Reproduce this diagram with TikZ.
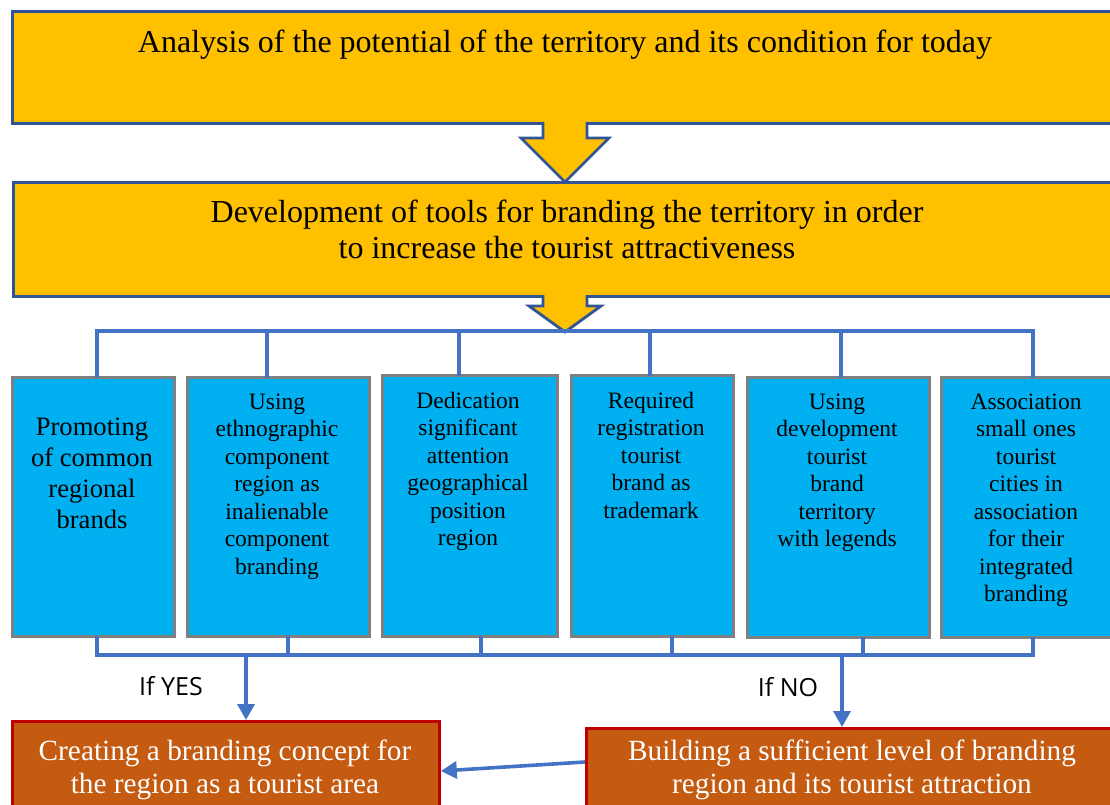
\documentclass[tikz,border=0pt]{standalone}
\usepackage{fontspec}
\setmainfont{Liberation Serif}
\newfontfamily\notefont{Open Sans}
\usetikzlibrary{arrows.meta}
\definecolor{amber}{HTML}{FFC000}
\definecolor{navyedge}{HTML}{2F5597}
\definecolor{sky}{HTML}{00B0F0}
\definecolor{greyedge}{HTML}{7F7F7F}
\definecolor{rust}{HTML}{C55A11}
\definecolor{rededge}{HTML}{C00000}
\definecolor{linkblue}{HTML}{4472C4}

% block arrow pointing down: centre x, shaft top, head top, tip, shaft half width, head half width
\newcommand\downblock[6]{%
  \fill[amber] (#1-#5,#2) -- (#1-#5,#3) -- (#1-#6,#3) -- (#1,#4) -- (#1+#6,#3) -- (#1+#5,#3) -- (#1+#5,#2) -- cycle;
  \draw[navyedge, line width=2.8pt, line join=miter] (#1-#5,#2) -- (#1-#5,#3) -- (#1-#6,#3) -- (#1,#4) -- (#1+#6,#3) -- (#1+#5,#3) -- (#1+#5,#2);
}

\begin{document}
\begin{tikzpicture}[x=1pt, y=-1pt,
  stagebox/.style={draw=navyedge, fill=amber, line width=3.2pt, anchor=north west, inner sep=0pt},
  stagetext/.style={font=\fontsize{32}{36}\selectfont, align=center, inner sep=0pt, anchor=north},
  optbox/.style={draw=greyedge, fill=sky, line width=3.2pt, anchor=north west, inner sep=0pt},
  optext/.style={font=\fontsize{23.5}{27.5}\selectfont, align=center, inner sep=0pt, anchor=north},
  bigoptext/.style={font=\fontsize{26.6}{31}\selectfont, align=center, inner sep=0pt, anchor=north},
  outbox/.style={draw=rededge, fill=rust, line width=2.8pt, anchor=north west, inner sep=0pt},
  outtext/.style={font=\fontsize{29.3}{33}\selectfont, text=white, align=center, inner sep=0pt, anchor=north},
  link/.style={draw=linkblue, line width=3.6pt, line cap=rect},
  flow/.style={draw=linkblue, line width=3.6pt, -{Triangle[length=16pt, width=17pt]}},
  note/.style={font=\notefont\fontsize{25}{28}\selectfont, inner sep=0pt}
]
\useasboundingbox (0,0) rectangle (1110,805);
\clip (0,0) rectangle (1110,805);

% stage boxes
\node[stagebox, minimum width=1114pt, minimum height=112pt] (analysis) at (11,10) {};
\node[stagetext] (analysisT) at (565,26.8) {\strut Analysis of the potential of the territory and its condition for today};

\node[stagebox, minimum width=1114pt, minimum height=114pt] (tools) at (12,181) {};
\node[stagetext] (toolsT) at (567,196.8) {\strut Development of tools for branding the territory in order\\ to increase the tourist attractiveness};

\downblock{565}{122}{138}{182}{22}{44}
\downblock{565}{295}{306}{332}{22}{36}

% option boxes
\node[optbox, minimum width=162pt, minimum height=259pt] (b1) at (11,376) {};
\node[optbox, minimum width=182pt, minimum height=259pt] (b2) at (186,376) {};
\node[optbox, minimum width=175pt, minimum height=261pt] (b3) at (381,374) {};
\node[optbox, minimum width=162pt, minimum height=261pt] (b4) at (570,374) {};
\node[optbox, minimum width=182pt, minimum height=260pt] (b5) at (746,376) {};
\node[optbox, minimum width=172pt, minimum height=260pt] (b6) at (940,376) {};

\node[bigoptext] (b1t) at (92,413.3) {\strut Promoting\\of common\\regional\\brands};
\node[optext] (b2t) at (277,389.8) {\strut Using\\ethnographic\\component\\region as\\inalienable\\component\\branding};
\node[optext] (b3t) at (468,388.8) {\strut Dedication\\significant\\attention\\geographical\\position\\region};
\node[optext] (b4t) at (651,388.8) {\strut Required\\registration\\tourist\\brand as\\trademark};
\node[optext] (b5t) at (837,389.8) {\strut Using\\development\\tourist\\brand\\territory\\with legends};
\node[optext] (b6t) at (1026,389.8) {\strut Association\\small ones\\tourist\\cities in\\association\\for their\\integrated\\branding};

% upper bracket
\coordinate (u1) at (97,331);
\coordinate (u2) at (267,331);
\coordinate (u3) at (459,331);
\coordinate (u4) at (650,331);
\coordinate (u5) at (841,331);
\coordinate (u6) at (1033,331);
\draw[link] (u1) -- (u6);
\foreach \i in {1,...,6} \draw[link] (u\i) -- (u\i |- b\i.north);

% lower bracket
\coordinate (d1) at (97,655);
\coordinate (d2) at (288,655);
\coordinate (d3) at (481,655);
\coordinate (d4) at (672,655);
\coordinate (d5) at (863,655);
\coordinate (d6) at (1033,655);
\draw[link] (d1) -- (d6);
\foreach \i in {1,...,6} \draw[link] (d\i) -- (d\i |- b\i.south);

% outcome boxes
\node[outbox, minimum width=427pt, minimum height=130pt] (create) at (11,720) {};
\node[outbox, minimum width=560pt, minimum height=130pt] (build) at (585,727) {};
\node[outtext] (createT) at (225,737.5) {\strut Creating a branding concept for\\the region as a tourist area};
\node[outtext] (buildT) at (852,737.5) {\strut Building a sufficient level of branding\\region and its tourist attraction};

\coordinate (yesfork) at (246,655);
\coordinate (nofork) at (842,655);
\draw[flow] (yesfork) -- (yesfork |- create.north);
\draw[flow] (nofork) -- (nofork |- build.north);
\node[note] (yes) at (171,686) {If YES};
\node[note] (no) at (788,687) {If NO};

\draw[flow] ([yshift=-35pt]build.north west) -- ([yshift=-51pt]create.north east);
\end{tikzpicture}
\end{document}
